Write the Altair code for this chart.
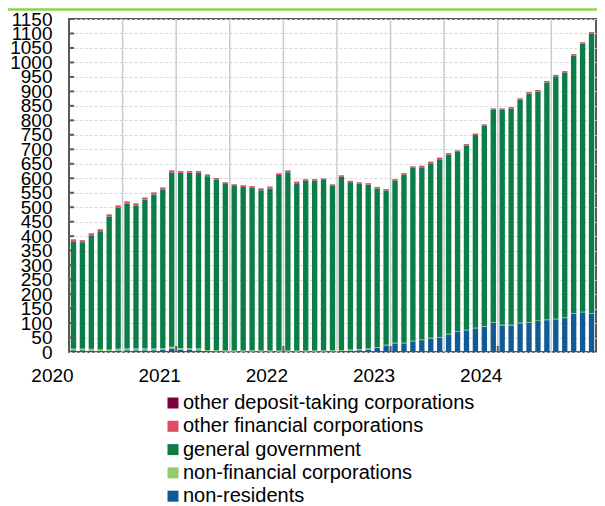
import altair as alt
import pandas as pd

# 59 monthly observations, Jan 2020 - Nov 2024
months = [f"{y}-{m:02d}" for y in range(2020, 2025) for m in range(1, 13)][:59]

non_residents = [6, 6, 5, 3, 3, 5, 6, 6, 6, 6, 7, 12, 8, 7, 6,
                 3, 2, 1, 1, 1, 1, 1, 1, 1, 1, 1, 1, 1, 1,
                 2, 3, 5, 6, 8,
                 15, 23, 30, 30, 37, 41, 47, 49, 61, 70, 75, 82, 88, 102,
                 92, 92, 99, 102, 107, 110, 113, 117, 133, 137, 133]
non_financial = [6] * 15 + [4] * 19 + [2] * 25
general_gov = [370, 367, 392, 408, 459, 488, 501, 494, 514, 532, 548, 602,
               605, 606, 607, 600, 589, 575, 568, 565, 562, 554, 560, 606,
               616, 578, 587, 587, 589, 568, 598, 577, 571, 566, 548, 533,
               560, 581, 597, 595, 603, 615, 619, 619, 636, 665, 691, 732,
               742, 747, 770, 789, 791, 819, 837, 846, 889, 926, 965]
other_financial = [6] * 12 + [5] * 13 + [4] * 34
other_deposit = [1] * 59

legend_order = ["other deposit-taking corporations", "other financial corporations",
                "general government", "non-financial corporations", "non-residents"]
colors = ["#7f0038", "#e04a64", "#0b7e47", "#92cc6a", "#105a96"]
stack_series = [("non-residents", non_residents),
                ("non-financial corporations", non_financial),
                ("general government", general_gov),
                ("other financial corporations", other_financial),
                ("other deposit-taking corporations", other_deposit)]

rows = []
for i, m in enumerate(months):
    for k, (name, vals) in enumerate(stack_series):
        rows.append({"idx": i, "month": m, "series": name, "value": vals[i], "ord": k})
df = pd.DataFrame(rows)

year_ticks = [12, 24, 36, 48]
half_year_grid = [6, 12, 18, 24, 30, 36, 42, 48, 54]
y_values = list(range(0, 1151, 50))

FONT = "Liberation Sans"
xs = alt.Scale(domain=[0, 59], nice=False, zero=False, padding=0)
ys = alt.Scale(domain=[0, 1150], nice=False, zero=True, padding=0)

x_axis = alt.Axis(values=[0, 12, 24, 36, 48],
                  labelExpr="'' + (2020 + datum.value / 12)",
                  ticks=False, grid=False, domain=False,
                  labelFont=FONT, labelFontSize=19, labelColor="black",
                  labelPadding=14, labelOffset=-17,
                  labelFlush=False, labelOverlap=False)
y_axis = alt.Axis(values=y_values, format="d", ticks=False, domain=False, grid=True,
                  gridColor="#d9d9d9", gridDash=[3, 2], gridWidth=1,
                  labelFont=FONT, labelFontSize=19, labelColor="black",
                  labelPadding=17, labelOverlap=False, labelFlush=False)

grid = alt.Chart(pd.DataFrame({"g": half_year_grid})).mark_rule(
    color="#c8cbd0", strokeWidth=1.5
).encode(x=alt.X("g:Q", scale=xs, axis=x_axis, title=None))

bars = alt.Chart(df).transform_stack(
    stack="value", groupby=["idx"],
    sort=[alt.SortField(field="ord", order="ascending")],
    as_=["v0", "v1"]
).transform_calculate(
    xa="datum.idx + 0.2", xb="datum.idx + 0.8"
).mark_bar().encode(
    x=alt.X("xa:Q", scale=xs, title=None, axis=x_axis),
    x2="xb:Q",
    y=alt.Y("v0:Q", scale=ys, title=None, axis=y_axis),
    y2="v1:Q",
    color=alt.Color("series:N", scale=alt.Scale(domain=legend_order, range=colors),
                    legend=alt.Legend(orient="none", legendX=94, legendY=374,
                                      direction="vertical", title=None,
                                      labelFont=FONT, labelFontSize=20, labelColor="black",
                                      labelLimit=400, symbolType="square", symbolSize=121,
                                      symbolStrokeWidth=0, labelOffset=0,
                                      rowPadding=3.3, padding=0)),
)

y_ticks = alt.Chart(pd.DataFrame({"v": y_values[1:]})).mark_rule(
    color="#595959", strokeWidth=2
).encode(y=alt.Y("v:Q", scale=ys, title=None, axis=y_axis),
         x=alt.value(0), x2=alt.value(5))

x_ticks = alt.Chart(pd.DataFrame({"t": year_ticks})).mark_rule(
    color="#595959", strokeWidth=2
).encode(x=alt.X("t:Q", scale=xs, title=None, axis=x_axis),
         y=alt.value(333), y2=alt.value(327))

top_line = alt.Chart(pd.DataFrame({"a": [0]})).mark_rule(
    color="#92d050", strokeWidth=2.5
).encode(x=alt.value(-61), x2=alt.value(540), y=alt.value(-9.5))

# total width 61 + 527 + 1 = 589 = 605 - 2*8 so the SVG is not shrunk by the page
chart = alt.layer(grid, bars, y_ticks, x_ticks, top_line).properties(
    width=527, height=333,
    autosize=alt.AutoSizeParams(type="none"),
    padding={"left": 61, "top": 11, "right": 1, "bottom": 160},
).configure_view(stroke="#595959", strokeWidth=2)

chart.save("out.html", embed_options={"renderer": "svg", "actions": False})
